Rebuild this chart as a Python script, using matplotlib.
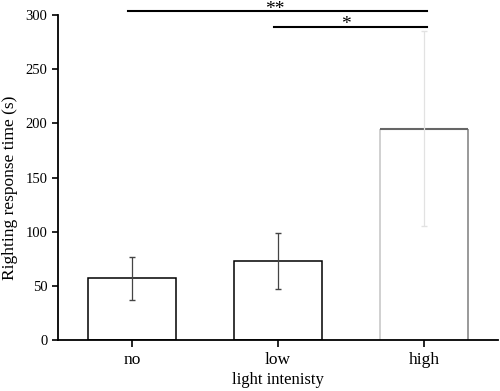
import matplotlib
matplotlib.use("Agg")
import matplotlib.pyplot as plt

categories = ["no", "low", "high"]
means = [57, 73, 195]
errors = [20, 26, 90]
# (start bar, end bar, line level, label, label x, label baseline)
sig_pairs = [(0, 2, 304, "**", 0.98, 300.5), (1, 2, 289, "*", 1.466, 287)]
yticks = [0, 50, 100, 150, 200, 250, 300]

plt.rcParams['font.family'] = ['Liberation Serif', 'DejaVu Serif']

fig = plt.figure(figsize=(5, 3.91), dpi=100)
ax = fig.add_axes([0.116, 0.1304, 0.88, 0.8312])

x = list(range(len(categories)))
width = 0.6
errcols = ['#444444', '#444444', '#e2e2e2']
capcols = ['#444444', '#444444', '#666666']
for i in x:
    if i < 2:
        ax.bar(i, means[i], width=width, color='white', edgecolor='black', linewidth=1.1, zorder=2)
    else:
        ax.bar(i, means[i], width=width, color='white', edgecolor='none', zorder=2)
        ax.vlines(i - width / 2, 0, means[i], color='#c8c8c8', lw=1.2, zorder=2)
        ax.vlines(i + width / 2, 0, means[i], color='#888888', lw=1.2, zorder=2)
        ax.hlines(means[i], i - width / 2, i + width / 2, color='#666666', lw=1.5, zorder=2)
    _, caps, _ = ax.errorbar(i, means[i], yerr=errors[i], fmt='none', ecolor=errcols[i],
                             elinewidth=0.9, capsize=2.5, capthick=1.0, zorder=3)
    for c in caps:
        c.set_color(capcols[i])

for a, b, y, txt, tx, ty in sig_pairs:
    ax.plot([a - 0.03, b + 0.02], [y, y], color='black', lw=1.5, clip_on=False, zorder=4)
    ax.text(tx, ty, txt, ha='center', va='baseline', fontsize=14, clip_on=False)

ax.set_xlim(-0.507, 2.507)
ax.set_ylim(0, 300)
ax.set_xticks(x)
ax.set_xticklabels(categories, fontsize=12.5)
ax.set_yticks(yticks)
ax.set_yticklabels([str(v) for v in yticks], fontsize=10.5)
ax.set_xlabel("light intenisty", fontsize=12, labelpad=3)
ax.set_ylabel("Righting response time (s)", fontsize=12.5, labelpad=3)
ax.yaxis.set_label_coords(-0.09, 0.468)
for s in ['top', 'right']:
    ax.spines[s].set_visible(False)
for s in ['left', 'bottom']:
    ax.spines[s].set_linewidth(1.3)
ax.tick_params(axis='both', direction='out', length=4, width=1.2, colors='black')
ax.tick_params(axis='x', length=5)

fig.savefig("out.png", dpi=100)
